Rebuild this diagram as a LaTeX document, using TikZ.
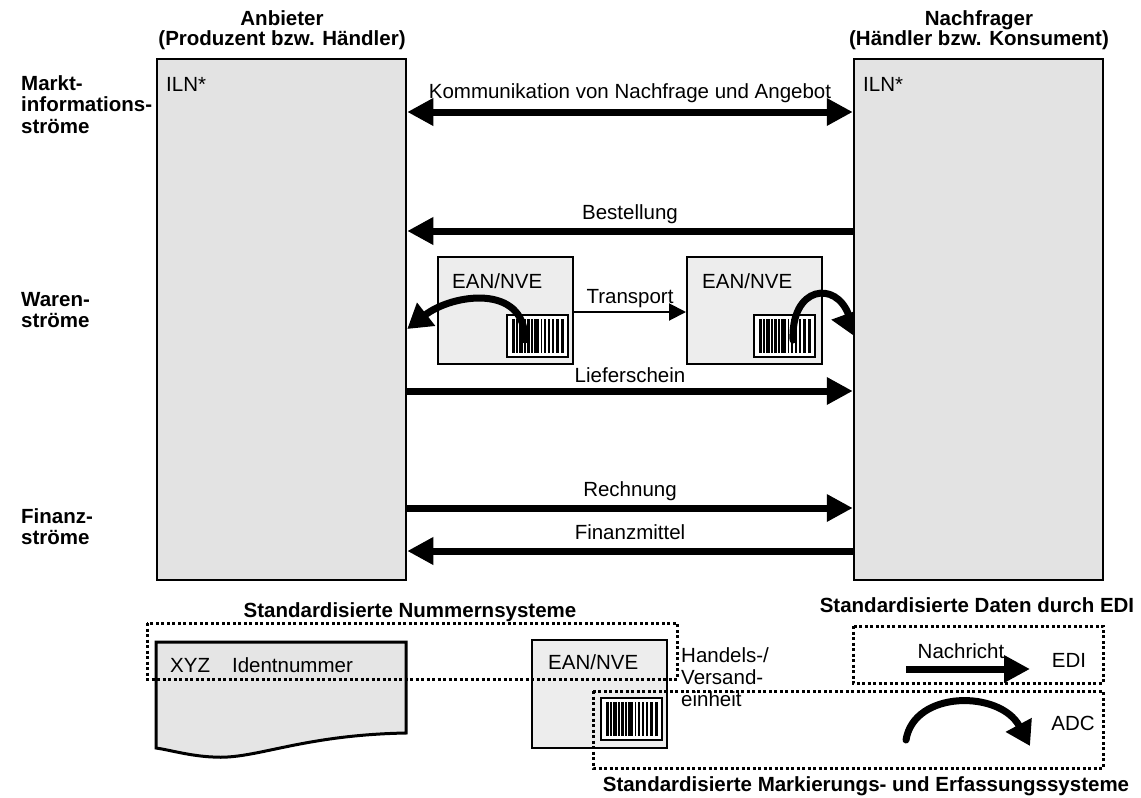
\documentclass[tikz,border=0pt]{standalone}
\usepackage{fontspec}
\setmainfont{Liberation Sans}
\usetikzlibrary{arrows.meta}
\definecolor{boxgray}{gray}{0.89}
\definecolor{eangray}{gray}{0.93}
\definecolor{docgray}{gray}{0.90}
\begin{document}
\begin{tikzpicture}[x=1pt,y=-1pt,
  txt/.style={font={\fontsize{20.5}{20}\selectfont}, inner sep=0pt},
  btxt/.style={font={\fontsize{20.5}{20}\selectfont\bfseries}, inner sep=0pt},
  bigbox/.style={draw, line width=2.5pt, fill=boxgray, minimum width=249pt, minimum height=521pt, inner sep=0pt},
  eanbox/.style={draw, line width=2pt, fill=eangray, minimum width=135pt, minimum height=107pt, inner sep=0pt},
  flow/.style={line width=7pt, -{Triangle[length=26pt,width=26pt]}},
  biflow/.style={line width=7pt, {Triangle[length=26pt,width=26pt]}-{Triangle[length=26pt,width=26pt]}},
  thinflow/.style={line width=2pt, -{Triangle[length=17pt,width=17pt]}},
  scanflow/.style={line width=7pt, line cap=round, -{Triangle[length=24pt,width=28pt]}},
  group/.style={line width=3pt, dash pattern=on 3pt off 2.5pt},
  barcode/.pic={
    \draw[line width=1.6pt, fill=white] (0,0) rectangle (61,42);
    \foreach \x/\w in {5/2.5, 9/1.5, 12/3.5, 17/1.5, 20/2.5, 24/1.5, 27/5, 33.5/1.5, 37/1.5, 40.5/2.5, 45/1.5, 48.5/3.5, 54/2.5}
      \fill (\x,4) rectangle ++(\w,34);
  }]
\useasboundingbox (0,0) rectangle (1141,798);

% headers
\node[btxt, align=center, anchor=north] (hanb) at (282,10) {Anbieter\\(Produzent bzw. Händler)};
\node[btxt, align=center, anchor=north] (hnach) at (979,10) {Nachfrager\\(Händler bzw. Konsument)};

% row labels
\node[btxt, align=left, anchor=north west, font={\fontsize{20.5}{21.5}\selectfont\bfseries}] (rowmi) at (21,75) {Markt-\\informations-\\ströme};
\node[btxt, align=left, anchor=north west, font={\fontsize{20.5}{21.5}\selectfont\bfseries}] (rowwa) at (21,292) {Waren-\\ströme};
\node[btxt, align=left, anchor=north west, font={\fontsize{20.5}{21.5}\selectfont\bfseries}] (rowfi) at (21,508) {Finanz-\\ströme};

% market partners
\node[bigbox] (anb) at (281.5,319.5) {};
\node[bigbox] (nach) at (978.5,319.5) {};
\node[txt, anchor=base west] (ilnA) at (166,91) {ILN*};
\node[txt, anchor=base west] (ilnN) at (863,91) {ILN*};

% row heights of the flows
\coordinate (r1) at (0,112);
\coordinate (r2) at (0,231);
\coordinate (r3) at (0,391);
\coordinate (r4) at (0,508);
\coordinate (r5) at (0,551);
\coordinate (rt) at (0,312);

\draw[biflow] (anb.east |- r1) -- (nach.west |- r1);
\node[txt, anchor=base] (lkom) at (630,98) {Kommunikation von Nachfrage und Angebot};
\draw[flow] (nach.west |- r2) -- (anb.east |- r2);
\node[txt, anchor=base] (lbest) at (630,219) {Bestellung};
\draw[flow] (anb.east |- r3) -- (nach.west |- r3);
\node[txt, anchor=base] (llief) at (630,382) {Lieferschein};
\draw[flow] (anb.east |- r4) -- (nach.west |- r4);
\node[txt, anchor=base] (lrech) at (630,496) {Rechnung};
\draw[flow] (nach.west |- r5) -- (anb.east |- r5);
\node[txt, anchor=base] (lfin) at (630,539) {Finanzmittel};

% shipping units
\node[eanbox] (ean1) at (505.5,310.5) {};
\node[eanbox] (ean2) at (754.5,310.5) {};
\node[txt, anchor=base west] (tean1) at (452,288) {EAN/NVE};
\node[txt, anchor=base west] (tean2) at (702,288) {EAN/NVE};
\pic (bc1) at (507,315) {barcode};
\pic (bc2) at (754,315) {barcode};
\draw[thinflow] (ean1.east |- rt) -- (ean2.west |- rt);
\node[txt, anchor=base] (ltrans) at (630,303) {Transport};

% scanning arcs
\coordinate (s1) at (525,340);
\coordinate (e1) at (0,329);
\draw[scanflow] (s1) .. controls (525,283) and (452,294) .. (anb.east |- e1);
\coordinate (s2) at (793,340);
\coordinate (e2) at (857,338);
\begin{scope}
  \clip (ean2.north) rectangle (nach.west |- ean2.south);
  \draw[scanflow, -{Triangle[length=26pt,width=34pt]}] (s2) .. controls (791,286) and (836,280) .. (e2);
\end{scope}

% legend: number systems
\node[btxt, anchor=base] (tnum) at (410,617) {Standardisierte Nummernsysteme};
\draw[line width=3pt, fill=docgray] (156,642) -- (406,642) -- (406,733)
  .. controls (300,735) and (255,760) .. (213,757)
  .. controls (190,756) and (170,750) .. (156,748) -- cycle;
\node[txt, anchor=base west] (txyz) at (170,672) {XYZ\hspace{22pt}Identnummer};
\node[draw, line width=2.5pt, fill=eangray, minimum width=135pt, minimum height=108pt, inner sep=0pt] (ean3) at (599.5,694) {};
\node[txt, anchor=base west] (tean3) at (548,669) {EAN/NVE};
\pic (bc3) at (601,698) {barcode};
\node[txt, align=left, anchor=north west, font={\fontsize{20.5}{22}\selectfont}] (thv) at (681,647) {Handels-/\\Versand-\\einheit};

% legend: EDI and ADC
\node[btxt, anchor=base] (tedi) at (977,612) {Standardisierte Daten durch EDI};
\coordinate (n1) at (906,669);
\coordinate (n2) at (1030,669);
\draw[flow] (n1) -- (n2);
\node[txt, anchor=base] (lnach) at (961,658) {Nachricht};
\node[txt, anchor=base] (ledi) at (1069,667) {EDI};
\coordinate (a1) at (906,740);
\coordinate (a2) at (1030,746);
\draw[scanflow] (a1) .. controls (914,690) and (1000,690) .. (a2);
\node[txt, anchor=base] (ladc) at (1073,730) {ADC};
\node[btxt, anchor=base] (tmark) at (866,791) {Standardisierte Markierungs- und Erfassungssysteme};

% dotted groupings
\draw[group] (147,623) rectangle (677,679);
\draw[group] (853,626) rectangle (1103,683);
\draw[group] (593,691) rectangle (1103,768);
\end{tikzpicture}
\end{document}
